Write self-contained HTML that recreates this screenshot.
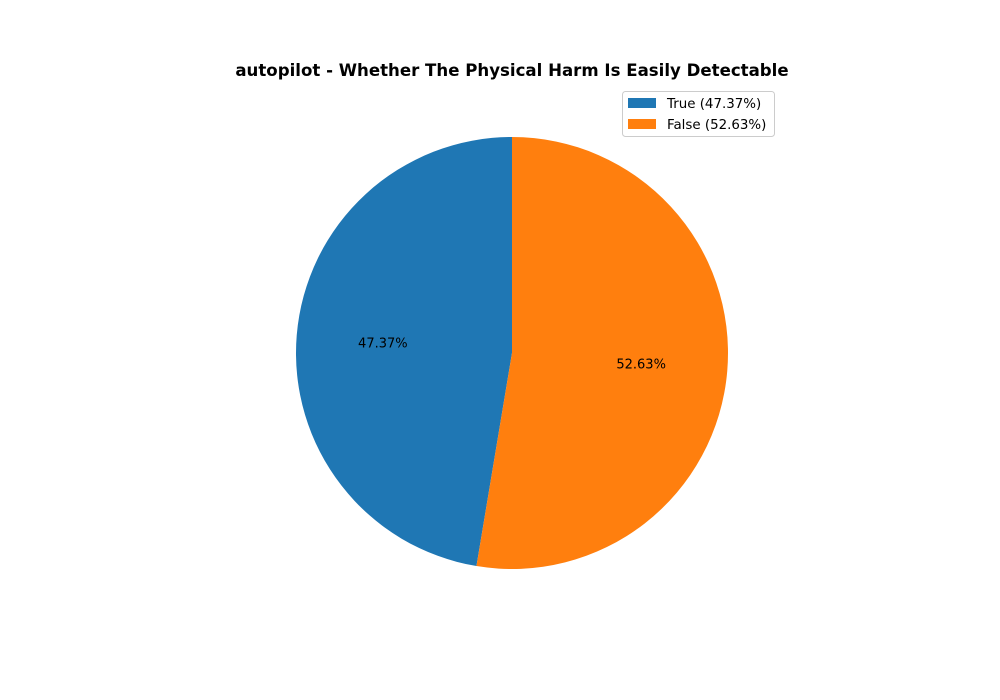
<!DOCTYPE html>
<html><head><meta charset="utf-8"><style>
html,body{margin:0;padding:0;background:#fff;overflow:hidden;}
svg{display:block;}
svg text{font-family:"DejaVu Sans","Liberation Sans",sans-serif;}
</style></head><body>
<svg width="1000" height="700" viewBox="0 0 1000 700" xmlns="http://www.w3.org/2000/svg">
<text x="512" y="76" text-anchor="middle" font-size="16.6" font-weight="bold" fill="#000">autopilot - Whether The Physical Harm Is Easily Detectable</text>
<g id="pie"></g>
<g>
<rect x="622.5" y="91.5" width="152" height="45" rx="3" fill="#fff" fill-opacity="0.8" stroke="#ccc"/>
<g id="legend-items"></g>
</g>
</svg>
<script>
const categories = ["True", "False"];
const values = [47.37, 52.63];
const colors = ["#1f77b4", "#ff7f0e"];
const cx = 512, cy = 353, r = 216;
const pie = document.getElementById('pie');
const leg = document.getElementById('legend-items');
const ns = "http://www.w3.org/2000/svg";
const total = values.reduce((a,b)=>a+b,0);
let start = 90;
values.forEach((v,i)=>{
  const sweep = v/total*360;
  const end = start + sweep;
  const a0 = start*Math.PI/180, a1 = end*Math.PI/180;
  const x0 = cx + r*Math.cos(a0), y0 = cy - r*Math.sin(a0);
  const x1 = cx + r*Math.cos(a1), y1 = cy - r*Math.sin(a1);
  const large = sweep > 180 ? 1 : 0;
  const p = document.createElementNS(ns,'path');
  p.setAttribute('d', `M${cx},${cy} L${x0},${y0} A${r},${r} 0 ${large} 0 ${x1},${y1} Z`);
  p.setAttribute('fill', colors[i]);
  
  
  pie.appendChild(p);
  const mid = (start + sweep/2)*Math.PI/180;
  const t = document.createElementNS(ns,'text');
  t.setAttribute('x', cx + 0.6*r*Math.cos(mid));
  t.setAttribute('y', cy - 0.6*r*Math.sin(mid) + 5);
  t.setAttribute('text-anchor','middle');
  t.setAttribute('font-size','13');
  t.textContent = v.toFixed(2) + '%';
  
  
  pie.appendChild(t);
  const ly = 103 + i*21;
  const sw = document.createElementNS(ns,'rect');
  sw.setAttribute('x',628); sw.setAttribute('y',ly-5); sw.setAttribute('width',28); sw.setAttribute('height',10);
  sw.setAttribute('fill',colors[i]);
  
  
  leg.appendChild(sw);
  const lt = document.createElementNS(ns,'text');
  lt.setAttribute('x',667); lt.setAttribute('y',ly+5);
  lt.setAttribute('font-size','13.4');
  lt.textContent = `${categories[i]} (${v.toFixed(2)}%)`;
  
  
  leg.appendChild(lt);
  start = end;
});
</script>
</body></html>
